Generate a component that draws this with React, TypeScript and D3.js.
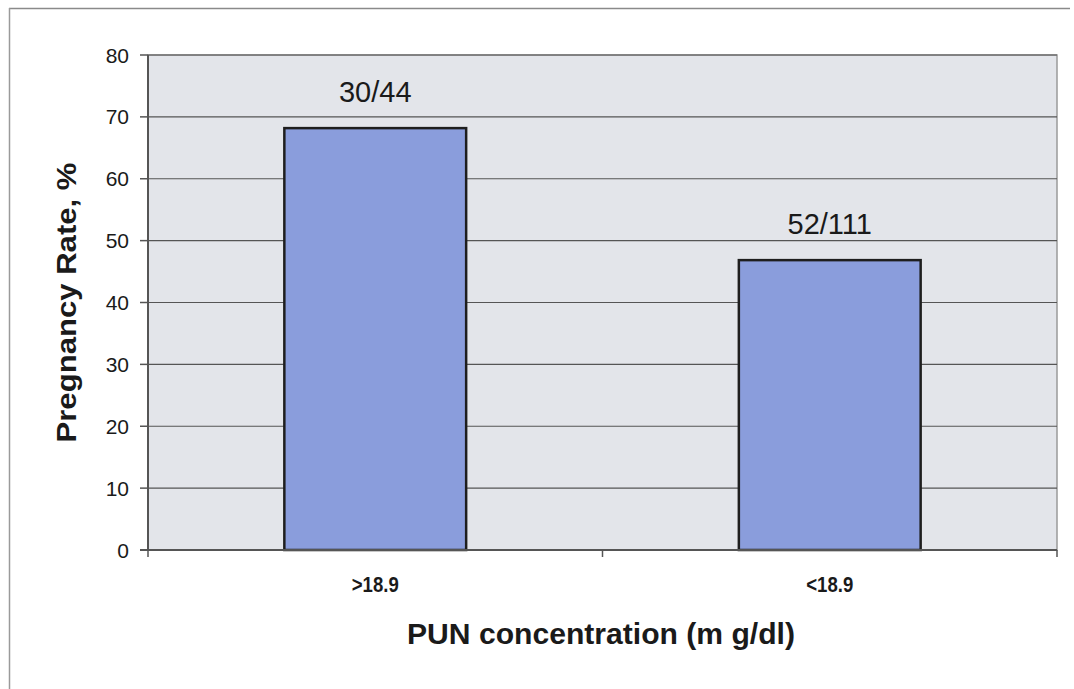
import React from "react";
import * as d3 from "d3";

// Pregnancy outcomes by PUN concentration group
const categories = [">18.9", "<18.9"];
const pregnant = [30, 52];
const totals = [44, 111];
const yTicks = [0, 10, 20, 30, 40, 50, 60, 70, 80];

const W = 1074;
const H = 689;
const plot = { left: 148, right: 1057, top: 55, bottom: 550 };

export default function App() {
  const x = d3
    .scaleBand<string>()
    .domain(categories)
    .range([plot.left, plot.right])
    .paddingInner(0.6)
    .paddingOuter(0.3);
  const y = d3.scaleLinear().domain([0, 80]).range([plot.bottom, plot.top]);
  const step = x.step();
  const rates = pregnant.map((p, i) => (p / totals[i]) * 100);
  const font = "'Liberation Sans', Arial, sans-serif";

  return (
    <svg
      width={W}
      height={H}
      style={{ position: "absolute", left: 0, top: 0, background: "#fff" }}
      fontFamily={font}
    >
      {/* outer chart frame (top and left edges) */}
      <line x1={9} x2={1070} y1={8.5} y2={8.5} stroke="#8a8a8a" strokeWidth={1.5} />
      <line x1={9.5} x2={9.5} y1={8} y2={689} stroke="#9a9a9a" strokeWidth={1.5} />

      {/* plot area */}
      <rect
        x={plot.left}
        y={plot.top}
        width={plot.right - plot.left}
        height={plot.bottom - plot.top}
        fill="#e3e5ea"
        stroke="#9a9a9a"
        strokeWidth={1.5}
      />

      {/* gridlines */}
      {yTicks.map((t) => (
        <line
          key={`g${t}`}
          x1={plot.left}
          x2={plot.right}
          y1={y(t)}
          y2={y(t)}
          stroke="#555"
          strokeWidth={1.2}
        />
      ))}

      {/* bars */}
      {categories.map((c, i) => (
        <rect
          key={c}
          x={x(c)!}
          y={y(rates[i])}
          width={x.bandwidth()}
          height={y(0) - y(rates[i])}
          fill="#8a9ddc"
          stroke="#1e1e1e"
          strokeWidth={2.5}
        />
      ))}

      {/* value labels */}
      {categories.map((c, i) => (
        <text
          key={`v${c}`}
          x={x(c)! + x.bandwidth() / 2}
          y={y(rates[i]) - 26}
          textAnchor="middle"
          fontSize={29}
          fill="#1a1a1a"
        >
          {`${pregnant[i]}/${totals[i]}`}
        </text>
      ))}

      {/* y axis */}
      <line x1={plot.left} x2={plot.left} y1={plot.top} y2={plot.bottom} stroke="#555" strokeWidth={2} />
      {yTicks.map((t) => (
        <g key={`t${t}`}>
          <line x1={plot.left - 8} x2={plot.left} y1={y(t)} y2={y(t)} stroke="#555" strokeWidth={1.5} />
          <text x={129} y={y(t)} dy="0.36em" textAnchor="end" fontSize={21} fill="#1a1a1a">
            {t}
          </text>
        </g>
      ))}

      {/* x axis */}
      <line x1={plot.left - 8} x2={plot.right} y1={plot.bottom} y2={plot.bottom} stroke="#555" strokeWidth={2} />
      {[0, 1, 2].map((k) => (
        <line
          key={`xt${k}`}
          x1={plot.left + k * step}
          x2={plot.left + k * step}
          y1={plot.bottom}
          y2={plot.bottom + 7}
          stroke="#555"
          strokeWidth={1.5}
        />
      ))}
      {categories.map((c) => (
        <text
          key={`c${c}`}
          x={x(c)! + x.bandwidth() / 2}
          y={592}
          textAnchor="middle"
          fontSize={22}
          fontWeight="bold"
          fill="#1a1a1a"
          textLength={47}
          lengthAdjust="spacingAndGlyphs"
        >
          {c}
        </text>
      ))}

      {/* axis titles */}
      <text
        x={601}
        y={644}
        textAnchor="middle"
        fontSize={29}
        fontWeight="bold"
        fill="#1a1a1a"
        textLength={388}
        lengthAdjust="spacingAndGlyphs"
      >
        PUN concentration (m g/dl)
      </text>
      <text
        transform={`translate(76,${(plot.top + plot.bottom) / 2}) rotate(-90)`}
        textAnchor="middle"
        fontSize={28}
        fontWeight="bold"
        fill="#1a1a1a"
        textLength={280}
        lengthAdjust="spacingAndGlyphs"
      >
        Pregnancy Rate, %
      </text>
    </svg>
  );
}
